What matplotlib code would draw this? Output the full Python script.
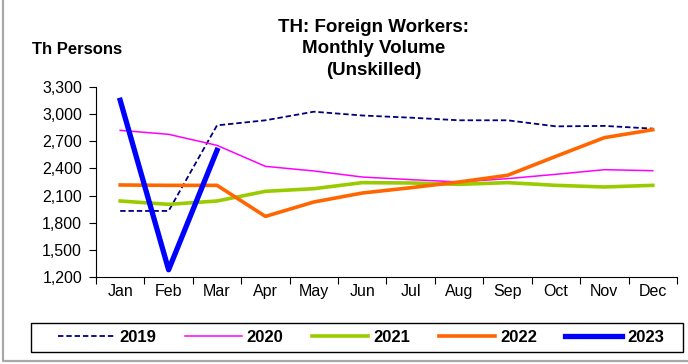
import matplotlib.pyplot as plt
from matplotlib.lines import Line2D
from matplotlib.patches import Rectangle

plt.rcParams['font.family'] = ['Liberation Sans', 'DejaVu Sans']

months = ['Jan', 'Feb', 'Mar', 'Apr', 'May', 'Jun', 'Jul', 'Aug', 'Sep', 'Oct', 'Nov', 'Dec']
y2019 = [1930, 1930, 2876, 2932, 3027, 2985, 2961, 2932, 2932, 2865, 2870, 2840]
y2020 = [2821, 2777, 2655, 2423, 2372, 2305, 2276, 2250, 2287, 2335, 2386, 2375]
y2021 = [2040, 2003, 2040, 2147, 2176, 2243, 2239, 2224, 2243, 2213, 2195, 2213]
y2022 = [2217, 2213, 2213, 1870, 2029, 2128, 2187, 2250, 2324, 2534, 2740, 2828]
y2023 = [3153, 1280, 2600]

fig = plt.figure(figsize=(6.88, 3.64), dpi=100)
ax = fig.add_axes([0.1395, 0.239, 0.8445, 0.522])

x = list(range(12))
ax.plot(x, y2019, color='#000080', lw=1.3, ls=(0, (3, 1.6)), label='2019')
ax.plot(x, y2020, color='#FF00FF', lw=1.1, label='2020')
ax.plot(x, y2021, color='#99CC00', lw=2.6, label='2021')
ax.plot(x, y2022, color='#FF6600', lw=2.6, label='2022')
ax.plot(x[:3], y2023, color='#0000FF', lw=3.8, label='2023')

ax.set_ylim(1200, 3300)
ax.set_yticks(range(1200, 3301, 300))
ax.set_yticklabels([f'{v:,}' for v in range(1200, 3301, 300)])
ax.set_xlim(-0.5, 11.5)
# category boundaries get the tick marks, month names sit in between
ax.set_xticks([i - 0.5 for i in range(13)])
ax.set_xticklabels([])
ax.set_xticks(x, minor=True)
ax.set_xticklabels(months, minor=True)
ax.tick_params(axis='x', which='major', length=5, direction='out')
ax.tick_params(axis='x', which='minor', length=0, pad=5, labelsize=11.5)
ax.tick_params(axis='y', length=5, direction='out', labelsize=11.5, pad=5)
for s in ['top', 'right']:
    ax.spines[s].set_visible(False)

fig.text(0.5436, 0.8654, 'TH: Foreign Workers:\nMonthly Volume\n(Unskilled)', ha='center', va='center',
         fontsize=13.5, fontweight='bold', linespacing=1.32)
fig.text(0.0465, 0.863, 'Th Persons', ha='left', va='center', fontsize=12, fontweight='bold')

leg = fig.legend(loc='center', bbox_to_anchor=(0.5247, 0.0728), ncol=5, frameon=False,
                 handlelength=3.4, handletextpad=0.3, columnspacing=1.7,
                 prop={'weight': 'bold', 'size': 12}, borderaxespad=0)
fig.patches.append(Rectangle((0.0451, 0.033), 0.9477, 0.0797, transform=fig.transFigure,
                             fill=False, edgecolor='black', lw=1.0))

# grey chart frame on the left and bottom
fig.add_artist(Line2D([0.005, 0.005, 1.0], [1.0, 0.0083, 0.0083], transform=fig.transFigure,
                      color='#a8a8a8', lw=1.6))

fig.savefig('out.png', dpi=100)
